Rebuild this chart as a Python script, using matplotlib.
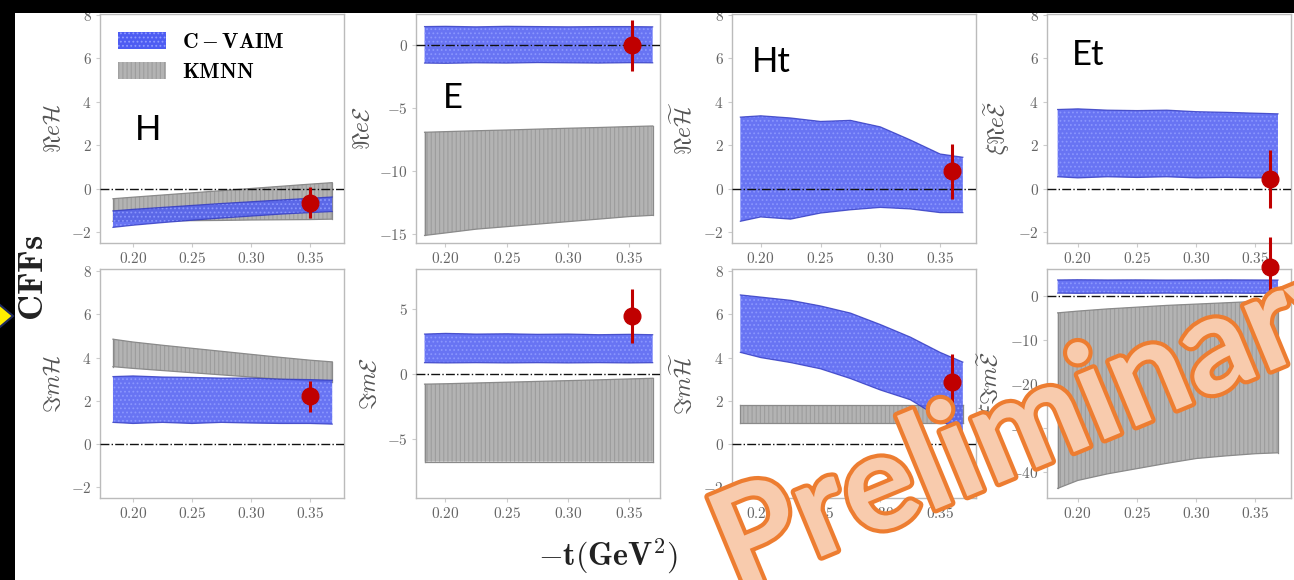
import matplotlib
matplotlib.use("Agg")
import matplotlib.pyplot as plt
import matplotlib.patheffects as pe
from matplotlib.patches import Rectangle, Polygon
from matplotlib.ticker import FuncFormatter, FixedLocator

plt.rcParams['mathtext.fontset'] = 'cm'
plt.rcParams['hatch.linewidth'] = 0.8

# ---------------- data ----------------
t_grid = [0.183, 0.20, 0.225, 0.25, 0.275, 0.30, 0.325, 0.35, 0.369]

panel_ylabels = [r'$\Re e\mathcal{H}$', r'$\Re e\mathcal{E}$',
                 r'$\Re e\widetilde{\mathcal{H}}$', r'$\xi\Re e\widetilde{\mathcal{E}}$',
                 r'$\Im m\mathcal{H}$', r'$\Im m\mathcal{E}$',
                 r'$\Im m\widetilde{\mathcal{H}}$', r'$\xi\Im m\widetilde{\mathcal{E}}$']

# C-VAIM band (low, high)
vaim_lo = [
    [-1.78, -1.68, -1.56, -1.45, -1.35, -1.26, -1.17, -1.10, -1.05],
    [-1.40, -1.42, -1.38, -1.40, -1.36, -1.38, -1.40, -1.37, -1.38],
    [-1.50, -1.30, -1.40, -1.12, -0.97, -0.86, -0.93, -1.10, -1.10],
    [0.55, 0.50, 0.55, 0.52, 0.55, 0.50, 0.52, 0.50, 0.52],
    [1.00, 0.95, 1.00, 0.95, 1.00, 0.97, 0.95, 0.95, 0.92],
    [0.90, 0.88, 0.90, 0.88, 0.90, 0.88, 0.90, 0.88, 0.90],
    [4.24, 4.00, 3.77, 3.48, 3.03, 2.50, 2.05, 1.21, 0.23],
    [0.70, 0.65, 0.70, 0.65, 0.70, 0.65, 0.70, 0.65, 0.70],
]
vaim_hi = [
    [-1.02, -0.95, -0.86, -0.77, -0.68, -0.60, -0.52, -0.44, -0.38],
    [1.50, 1.52, 1.48, 1.52, 1.50, 1.48, 1.50, 1.50, 1.48],
    [3.30, 3.36, 3.26, 3.10, 3.15, 2.85, 2.25, 1.60, 1.45],
    [3.65, 3.68, 3.62, 3.60, 3.62, 3.55, 3.52, 3.48, 3.45],
    [3.12, 3.15, 3.10, 3.08, 3.05, 3.05, 3.00, 2.98, 2.95],
    [3.10, 3.15, 3.10, 3.12, 3.08, 3.10, 3.05, 3.08, 3.05],
    [6.90, 6.80, 6.65, 6.39, 6.06, 5.53, 4.95, 4.24, 3.79],
    [3.70, 3.75, 3.70, 3.72, 3.68, 3.70, 3.72, 3.70, 3.68],
]
# KMNN band (low, high); None = not shown
kmnn_lo = [
    [-1.50, -1.49, -1.48, -1.47, -1.46, -1.44, -1.43, -1.42, -1.40],
    [-15.1, -14.9, -14.6, -14.4, -14.2, -14.0, -13.8, -13.6, -13.5],
    None,
    None,
    [3.58, 3.50, 3.40, 3.30, 3.20, 3.10, 3.00, 2.92, 2.85],
    [-6.70, -6.70, -6.70, -6.70, -6.70, -6.70, -6.70, -6.70, -6.70],
    [0.95, 0.95, 0.95, 0.95, 0.95, 0.95, 0.95, 0.95, 0.95],
    [-43.8, -42.0, -40.5, -39.3, -38.1, -37.0, -36.4, -35.9, -35.7],
]
kmnn_hi = [
    [-0.46, -0.39, -0.29, -0.19, -0.09, 0.01, 0.11, 0.21, 0.28],
    [-6.90, -6.85, -6.78, -6.72, -6.65, -6.58, -6.52, -6.45, -6.40],
    None,
    None,
    [4.85, 4.72, 4.57, 4.43, 4.29, 4.15, 4.01, 3.88, 3.80],
    [-0.75, -0.72, -0.66, -0.60, -0.54, -0.48, -0.42, -0.35, -0.30],
    [1.82, 1.82, 1.82, 1.82, 1.82, 1.82, 1.82, 1.82, 1.82],
    [-3.8, -3.4, -2.9, -2.5, -2.1, -1.8, -1.5, -1.2, -1.0],
]

# red points (-t, value, error)
pt_t = [0.350, 0.352, 0.360, 0.362, 0.350, 0.352, 0.360, 0.362]
pt_val = [-0.65, 0.0, 0.80, 0.45, 2.20, 4.50, 2.85, 6.60]
pt_err = [0.72, 2.05, 1.27, 1.35, 0.72, 2.10, 1.30, 6.80]

x_ticks = [0.20, 0.25, 0.30, 0.35]
y_ticks = [[-2, 0, 2, 4, 6, 8], [-15, -10, -5, 0], [-2, 0, 2, 4, 6, 8], [-2, 0, 2, 4, 6, 8],
           [-2, 0, 2, 4, 6, 8], [-5, 0, 5], [-2, 0, 2, 4, 6, 8], [-40, -30, -20, -10, 0]]
y_lims = [(-2.5, 8.05), (-15.7, 2.5), (-2.5, 8.05), (-2.5, 8.05),
          (-2.5, 8.1), (-9.5, 8.1), (-2.5, 8.1), (-46.0, 6.2)]
x_lims = [(0.172, 0.379), (0.176, 0.375), (0.176, 0.380), (0.174, 0.380)]

legend_labels = [r'$\mathbf{C-VAIM}$', r'$\mathbf{KMNN}$']
panel_names = ['H', 'E', 'Ht', 'Et']

# ---------------- figure ----------------
W, H = 1294, 580
fig = plt.figure(figsize=(W / 100, H / 100), dpi=100)
fig.patch.set_facecolor('white')

col_left = [100, 416, 732, 1047]
row_top = [14, 269]
ax_w, ax_h = 244, 229

BLUE = '#4d5cf2'
BLUE_H = '#8e9aff'
BLUE_E = '#3038c0'
GRAY = '#b3b3b3'
GRAY_H = '#9d9d9d'
GRAY_E = '#8a8a8a'
RED = '#c00000'
TICK_C = '#666666'

axes = []
for i in range(8):
    r, c = divmod(i, 4)
    left = col_left[c] / W
    bottom = 1 - (row_top[r] + ax_h) / H
    ax = fig.add_axes([left, bottom, ax_w / W, ax_h / H])
    axes.append(ax)
    if kmnn_lo[i] is not None:
        ax.fill_between(t_grid, kmnn_lo[i], kmnn_hi[i], facecolor=GRAY,
                        edgecolor=GRAY_H, hatch='||||', linewidth=0, zorder=1)
        ax.plot(t_grid, kmnn_lo[i], color=GRAY_E, lw=0.9, zorder=1.1)
        ax.plot(t_grid, kmnn_hi[i], color=GRAY_E, lw=0.9, zorder=1.1)
        ax.plot([t_grid[0]] * 2, [kmnn_lo[i][0], kmnn_hi[i][0]], color=GRAY_E, lw=0.9, zorder=1.1)
        ax.plot([t_grid[-1]] * 2, [kmnn_lo[i][-1], kmnn_hi[i][-1]], color=GRAY_E, lw=0.9, zorder=1.1)
    ax.fill_between(t_grid, vaim_lo[i], vaim_hi[i], facecolor=BLUE,
                    edgecolor=BLUE_H, hatch='....', linewidth=0, alpha=0.85, zorder=2)
    ax.plot(t_grid, vaim_lo[i], color=BLUE_E, lw=0.9, alpha=0.8, zorder=2.1)
    ax.plot(t_grid, vaim_hi[i], color=BLUE_E, lw=0.9, alpha=0.8, zorder=2.1)
    ax.axhline(0, color='#111111', ls='-.', lw=1.0, zorder=3)
    eb = ax.errorbar([pt_t[i]], [pt_val[i]], yerr=[pt_err[i]], fmt='o', color=RED,
                     ms=12, elinewidth=2.2, capsize=0, zorder=6)
    eb.lines[0].set_clip_on(False)
    for lc in eb.lines[2]:
        lc.set_clip_on(False)

    ax.set_xlim(*x_lims[c])
    ax.set_ylim(*y_lims[i])
    ax.xaxis.set_major_locator(FixedLocator(x_ticks))
    ax.yaxis.set_major_locator(FixedLocator(y_ticks[i]))
    ax.xaxis.set_major_formatter(FuncFormatter(lambda v, p: r'$%.2f$' % v))
    ax.yaxis.set_major_formatter(FuncFormatter(lambda v, p: r'$%d$' % round(v)))
    ax.tick_params(labelsize=11, colors='#cccccc', labelcolor=TICK_C, length=3, width=0.8, pad=3)
    for s in ax.spines.values():
        s.set_color('#bbbbbb')
        s.set_linewidth(1.0)
    ax.set_ylabel(panel_ylabels[i], fontsize=17, color='#555555', labelpad=4)

    if i == 0:
        gpatch = matplotlib.patches.Patch(facecolor=GRAY, edgecolor=GRAY_H, hatch='||||', lw=0)
        bpatch = matplotlib.patches.Patch(facecolor=BLUE, edgecolor=BLUE_H, hatch='....', lw=0)
        ax.legend([bpatch, gpatch], legend_labels, loc='upper left', frameon=False,
                  fontsize=15.5, handlelength=2.2, handleheight=0.85, labelspacing=0.45,
                  handletextpad=0.75, borderaxespad=0.45)

# panel name overlays
name_pos = [(135, 140), (443, 108), (752, 72), (1072, 65)]
for name, (px, py) in zip(panel_names, name_pos):
    fig.text(px / W, 1 - py / H, name, fontsize=25, family='Lato', color='black',
             ha='left', va='baseline', zorder=10)

# global labels
fig.text(33 / W, 1 - 278 / H, r'$\mathbf{CFFs}$', rotation=90, fontsize=26,
         ha='center', va='center', color='#222222')
fig.text(608 / W, 1 - 556 / H, r'$\mathbf{-t(GeV^2)}$', fontsize=23,
         ha='center', va='center', color='#222222')

# slide decorations: black border strips and yellow arrow
fig.add_artist(Rectangle((0, 1 - 13 / H), 1, 13 / H, transform=fig.transFigure,
                         facecolor='black', edgecolor='none', zorder=20))
fig.add_artist(Rectangle((0, 0), 15 / W, 1, transform=fig.transFigure,
                         facecolor='black', edgecolor='none', zorder=20))
fig.add_artist(Polygon([(-6 / W, 1 - 300 / H), (13 / W, 1 - 316 / H), (-6 / W, 1 - 332 / H)],
                       closed=True, transform=fig.transFigure, facecolor='#ffee00',
                       edgecolor='#1f2a60', lw=1.5, zorder=21))

# watermark
wm = fig.text(736 / W, 1 - 592 / H, 'Preliminary', fontsize=98, family='Lato',
              weight='bold', color='#f8cbad', rotation=22.5, rotation_mode='anchor',
              ha='left', va='baseline', zorder=15)
wm.set_path_effects([pe.Stroke(linewidth=6, foreground='#ed7d31'), pe.Normal()])

fig.savefig('out.png', dpi=100)
